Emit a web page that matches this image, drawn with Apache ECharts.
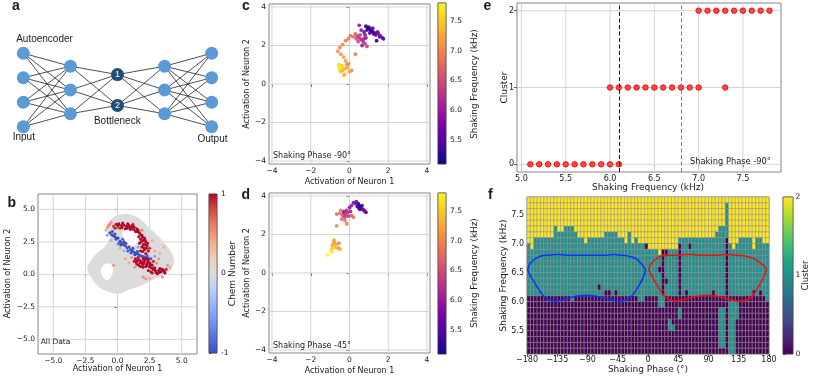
<!DOCTYPE html>
<html><head><meta charset="utf-8">
<script src="https://cdn.jsdelivr.net/npm/echarts@6/dist/echarts.min.js"></script>
<style>html,body{margin:0;padding:0;background:#fff}#c{width:830px;height:378px}</style>
</head><body><div id="c"></div>
<script>
// ================= DATA =================
// Panel a: autoencoder network (layer index, node vertical position)
var layerX = [0, 1, 2, 3, 4];
var layerNodesY = [[1.5, 0.5, -0.5, -1.5], [0.97, 0, -0.97], [0.63, -0.63], [0.97, 0, -0.97], [1.5, 0.5, -0.5, -1.5]];
var bottleneckLayer = 2;
var bottleneckLabels = ['1', '2'];

// Panel b: latent space, all data (gray cloud outline + holes) and coloured points [x, y, chem]
var bTicks = [-5, -2.5, 0, 2.5, 5];
var bCbTicks = [-1, 0, 1];
var bCloudOuter = [[-0.45,4.3],[0.06,4.56],[0.5,4.65],[0.84,4.62],[1.5,4.43],[2.0,4.05],[2.66,3.41],[3.1,3.0],[3.44,2.64],[4.09,1.87],[4.4,1.1],[4.3,0.6],[4.0,0.25],[3.6,-0.05],[3.0,-0.3],[2.5,-0.55],[2.0,-0.8],[1.5,-1.0],[0.84,-1.21],[0.06,-1.5],[-0.72,-1.34],[-1.5,-0.95],[-2.0,-0.31],[-2.35,0.46],[-2.14,0.97],[-1.62,1.62],[-0.97,2.12],[-0.7,2.6],[-0.58,2.89],[-0.72,3.3],[-0.72,3.66],[-0.6,4.05]];
var bHole1 = [[-1.0,0.8],[-0.5,0.75],[-0.35,0.3],[-0.5,-0.2],[-0.8,-0.45],[-1.15,-0.2],[-1.3,0.3]];
var bHole2 = [[0.4,3.3],[1.0,3.4],[1.5,3.15],[1.65,2.6],[1.4,2.25],[0.9,2.3],[0.5,2.7]];
var bPointsLight = [[-0.8,3.6,0.5],[-0.6,3.9,0.6],[-0.9,3.4,0.4],[-0.3,0.7,0.5],[0.2,2.0,0.4],[1.35,0.55,0.5],[3.05,0.85,0.5],[3.3,1.6,0.4],[3.6,2.1,0.4],[2.0,-0.2,0.5],[2.5,-0.3,0.4],[3.9,0.7,0.5],[0.9,0.9,0.4],[1.9,3.4,0.6],[2.7,2.6,0.4],[4.1,0.5,0.4],[3.5,-0.2,0.5],[-0.5,4.0,0.5],[1.1,1.3,0.5],[2.9,1.8,0.4],[-0.7,3.75,0.6],[3.2,1.2,0.5],[2.2,-0.35,0.5],[0.6,1.2,0.4],
  [-0.8,3.0,-0.5],[0.0,2.3,-0.4],[2.7,0.9,-0.5],[2.3,2.0,-0.4],[1.6,2.1,-0.5],[0.5,1.8,-0.4],[2.9,1.4,-0.5],[-0.5,2.6,-0.4]];
var bPointsRed = [[-0.3,3.7,0.9],[-0.1,3.85,1],[0.1,3.9,1],[0.3,3.75,1],[0.5,3.8,1],[0.7,3.7,1],[0.9,3.75,1],[1.1,3.6,1],[1.3,3.65,1],[1.5,3.5,1],[0.2,3.55,0.9],[0.6,3.5,1],[1.0,3.45,1],[1.4,3.3,1],[1.7,3.2,1],[0.0,3.6,0.8],[0.8,3.9,1],[1.2,3.85,0.9],[0.4,3.95,1],[1.6,3.4,1],[0.95,3.6,1],[1.25,3.45,1],
  [1.9,3.0,1],[2.1,2.8,1],[1.8,2.7,1],[2.2,2.5,1],[2.0,2.3,1],[2.3,2.2,1],[1.9,2.1,1],[2.1,1.9,1],[2.4,1.8,1],[2.2,1.6,1],[1.8,1.8,1],[2.5,2.0,0.9],[2.0,2.6,1],[1.7,2.4,1],[1.95,2.85,1],[2.35,2.4,1],[2.05,2.05,1],[1.85,2.5,1],
  [1.3,1.0,1],[1.5,0.8,1],[1.7,1.1,1],[1.9,0.9,1],[2.1,1.0,1],[2.3,0.8,1],[2.5,0.9,1],[2.7,0.7,1],[1.6,1.3,1],[1.8,0.6,1],[2.0,1.2,1],[2.4,1.1,1],[2.6,0.5,1],[2.2,0.6,1],[1.4,1.2,1],[2.8,1.0,0.9],[1.55,1.05,1],[1.95,0.75,1],[2.35,0.95,1],[2.15,1.15,1],
  [2.4,0.3,1],[2.6,0.2,1],[2.8,0.35,1],[3.0,0.15,1],[3.2,0.3,1],[3.4,0.2,1],[3.6,0.3,1],[3.8,0.4,0.9],[2.9,0.5,1],[3.3,0.45,1],[3.1,0.05,1],[3.7,0.1,1],[2.7,0.1,1],[3.5,0.4,1],
  [1.45,0.95,1],[1.65,0.7,1],[1.85,1.0,1],[2.05,0.85,1],[2.25,0.7,1],[2.45,0.6,1],[2.55,0.75,1],[2.75,0.45,1],[2.95,0.3,1],[3.25,0.15,1],[3.45,0.35,1],[3.65,0.2,1],[1.75,0.9,1],[2.0,0.55,1],[2.3,1.2,1],[2.15,2.3,1],[2.25,2.0,1],[1.95,1.75,1],[2.15,2.65,1],[1.8,3.05,1],[1.55,3.3,1],[1.15,3.75,1],[0.75,3.55,1],[0.35,3.6,1],[0.05,3.75,1],[-0.2,3.55,0.9],[1.65,2.9,1]];
var bPointsBlue = [[-0.6,3.2,-1],[-0.45,3.05,-1],[-0.3,2.95,-1],[-0.2,3.1,-1],[-0.1,2.7,-1],[0.05,2.8,-1],[0.2,2.55,-1],[0.3,2.4,-1],[0.45,2.3,-1],[0.6,2.2,-1],[0.75,2.05,-1],[0.9,2.1,-1],[1.0,1.9,-1],[1.15,1.8,-1],[1.3,1.7,-1],[1.45,1.6,-1],[1.6,1.55,-1],[1.75,1.45,-1],[1.9,1.4,-1],[2.05,1.35,-1],[2.2,1.3,-1],[2.4,1.25,-1],[2.6,1.2,-0.9],[0.1,2.4,-0.9],[0.5,2.5,-1],[0.8,1.8,-0.9],[1.2,2.0,-1],[1.55,1.75,-1],[2.3,1.45,-0.9],[-0.4,3.3,-1],[0.4,2.7,-0.9],[1.05,1.65,-1],[-0.15,2.85,-1],[0.25,2.25,-1],[0.65,2.4,-1],[1.35,1.5,-1]];

// Panels c, d: latent points at fixed phase [x, y, frequency kHz]
var cdTicks = [-4, -2, 0, 2, 4];
var freqCbTicks = [5.5, 6.0, 6.5, 7.0, 7.5];
var cPoints = [[0.85,3.0,5.1],[0.95,2.9,5.2],[1.05,2.85,5.15],[1.1,2.75,5.3],[1.2,2.7,5.25],[1.3,2.65,5.4],[1.0,2.95,5.3],[1.15,2.8,5.2],[1.25,2.6,5.5],[1.35,2.55,5.45],[0.9,2.8,5.35],[1.4,2.25,5.1],[1.05,2.65,5.5],
  [0.75,2.7,5.7],[1.5,2.6,5.8],[1.6,2.5,5.9],[1.7,2.4,5.7],[1.75,2.35,5.6],[1.45,2.7,5.6],[0.6,2.8,5.9],[0.5,3.05,6.0],[1.2,2.9,5.7],[1.55,2.45,5.65],[0.8,2.55,5.9],
  [0.4,2.5,6.2],[0.5,2.4,6.3],[0.6,2.3,6.1],[0.7,2.2,6.2],[0.8,2.1,6.3],[0.9,1.95,6.4],[0.55,2.55,6.4],[0.35,2.35,6.5],[0.65,2.0,6.0],[0.75,2.35,6.1],[0.45,2.2,6.5],[0.85,2.4,6.0],
  [0.3,2.6,6.7],[0.2,2.45,6.8],[0.05,2.5,6.7],[-0.06,2.35,6.9],[-0.2,2.25,6.9],[-0.35,2.05,7.0],[-0.5,1.9,7.0],[-0.6,1.7,7.1],[-0.45,1.55,7.1],[-0.3,1.4,7.2],[-0.2,1.2,7.2],[-0.15,1.0,7.1],[-0.1,0.85,7.3],[0.1,0.7,7.0],[0.3,1.55,6.9],[-0.25,0.8,7.2],[-0.05,1.05,7.0],[0.0,0.65,7.2],[-0.35,0.7,7.3],
  [-0.55,1.0,7.6],[-0.5,0.9,7.7],[-0.45,0.8,7.8],[-0.4,0.95,7.5],[-0.35,0.85,7.6],[-0.5,0.75,7.7],[-0.45,0.65,7.4],[-0.3,0.45,7.5],[-0.25,0.5,7.4],[-0.55,0.85,7.8]];
var dPoints = [[0.45,3.6,5.1],[0.5,3.5,5.2],[0.55,3.45,5.15],[0.6,3.4,5.3],[0.5,3.35,5.25],[0.65,3.5,5.35],[0.4,3.45,5.3],[0.55,3.3,5.4],
  [0.7,3.3,5.6],[0.8,3.2,5.7],[0.75,3.25,5.8],[0.3,3.6,5.8],[0.2,3.65,5.9],[0.1,3.5,6.0],[0.0,3.4,5.9],[0.85,3.15,5.6],[0.35,3.7,5.7],
  [-0.3,3.1,6.2],[-0.2,3.0,6.3],[-0.1,3.15,6.1],[-0.25,2.9,6.4],[-0.15,3.25,6.2],[-0.35,3.0,6.5],[-0.05,2.95,6.3],[-0.2,3.1,6.4],[0.05,3.2,6.1],[-0.3,3.2,6.0],
  [-0.66,3.06,6.8],[0.11,2.98,6.7],[-0.66,2.45,7.0],[-0.23,2.72,6.9],[-0.14,2.55,6.9],[-0.5,3.1,6.8],[0.2,2.9,6.8],[-0.4,2.8,6.7],[-0.45,3.25,6.9],
  [-0.8,1.6,7.1],[-0.7,1.5,7.2],[-0.55,1.55,7.0],[-0.6,1.3,7.1],[-0.5,1.25,7.2],[-0.9,1.4,7.4],[-0.85,1.3,7.5],[-0.95,1.2,7.6],[-0.75,1.35,7.4],[-0.85,1.5,7.3],[-1.13,0.94,7.8],[-0.9,1.1,7.7],[-0.8,1.7,7.2]];

// Panel e: cluster vs frequency at phase -90
var eXTicks = [5.0, 5.5, 6.0, 6.5, 7.0, 7.5];
var eYTicks = [0, 1, 2];
var eFreq =    [5.1,5.2,5.3,5.4,5.5,5.6,5.7,5.8,5.9,6.0,6.1, 6.0,6.1,6.2,6.3,6.4,6.5,6.6,6.7,6.8,6.9,7.0,7.3, 7.0,7.1,7.2,7.3,7.4,7.5,7.6,7.7,7.8];
var eCluster = [0,0,0,0,0,0,0,0,0,0,0, 1,1,1,1,1,1,1,1,1,1,1,1, 2,2,2,2,2,2,2,2,2];
var eDashed = [6.1, 6.8];

// Panel f: cluster map (columns = phase bins, each string = rows from 7.8 kHz down to 5.1 kHz)
var fXTicks = [-180, -135, -90, -45, 0, 45, 90, 135, 180];
var fYTicks = [5.5, 6.0, 6.5, 7.0, 7.5];
var fCbTicks = [0, 1, 2];
var phaseEdges = [-180,-175,-170,-165,-160,-155,-150,-145,-140,-135,-130,-125,-120,-115,-110,-105,-100,-95,-90,-85,-80,-75,-70,-65,-60,-55,-50,-45,-40,-35,-30,-25,-20,-15,-10,-5,0,5,10,15,20,25,30,35,40,45,50,55,60,65,70,75,80,85,90,95,100,105,110,115,120,125,130,135,140,145,150,155,160,165,170,175,180];
var freqEdges = [7.8,7.7,7.6,7.5,7.4,7.3,7.2,7.1,7.0,6.9,6.8,6.7,6.6,6.5,6.4,6.3,6.2,6.1,6.0,5.9,5.8,5.7,5.6,5.5,5.4,5.3,5.2,5.1];
var clusterCols = [
"222222221111111110000000000","222222222111111110000000000","222222211111111110000000000","222222211111111110000000000",
"222222211111111110000000000","222222211111111110000000000","222222211111111110000000000","222222211111111110000000000",
"222221111111111110000000000","222222111111111110000000000","222222111111111110000000000","222221111111111110000000000",
"222221111111111110000000000","222221111111111111000000000","222222111111111110000000000","222222211111111110000000000",
"222222211111111110000000000","222222221111111110000000000","222222211111111110000000000","222222211111111110000000000",
"222222211111111110000000000","222222211111111010000000000","222222211111111110000000000","222222111111111100000000000",
"222222111111111100000000000","222222111111111110000000000","222222111111111100000000000","222222211111111110000000000",
"222222211111111110000000000","222222221111111110000000000","222222111111111110000000000","222222221111111110000000000",
"222222211111111110000000000","222222221111111111000000000","222222221111111111000000000","222222220111111110000000000",
"222222222111111110000000000","222222222111111110000000000","222222222111111110000000000","222222222211011111100000000",
"222222222000000001100000000","222222222011110110000000000","222222222111111110000110000","222222222111111110000010000",
"222222222111111110000000000","222222210000000000011000000","222222211111111110000000000","222222211111111100000000000",
"222222210111111110000000000","222222211111111110000000000","222222211111111110000000000","222222211111111110000000000",
"222222211111111110000000000","222222211111111110000000000","222222211111111110000000000","222222211111111100000000000",
"222222111111111110000000000","222221111111111110011111110","222221111111111110011111110","211111100000000000000000000",
"222222221111111110111111111","222222222111111110111111111","222222221111111110111000000","222222211111111110000000000",
"222222211111111110000000000","222222211111111110000000000","222222211111111110000000000","222222222111111100000000000",
"222222211111111110000000000","222222211111111100000000000","222222221111111110000000000","222222221111111111000000000"];
var blueCurve = [[-179,6.55],[-176,6.64],[-172,6.70],[-166,6.75],[-158,6.79],[-148,6.80],[-135,6.81],[-120,6.80],[-105,6.80],[-90,6.80],[-75,6.80],[-60,6.80],[-50,6.81],[-40,6.80],[-32,6.79],[-25,6.77],[-18,6.74],[-12,6.68],[-7,6.61],[-4,6.55],[-6,6.45],[-10,6.35],[-16,6.23],[-22,6.13],[-28,6.06],[-35,6.02],[-43,6.01],[-52,6.02],[-62,6.05],[-72,6.08],[-82,6.10],[-92,6.11],[-102,6.10],[-112,6.08],[-122,6.05],[-132,6.02],[-140,6.01],[-148,6.03],[-156,6.10],[-163,6.22],[-170,6.35],[-176,6.47],[-179,6.55]];
var redCurve = [[1,6.55],[4,6.64],[8,6.70],[14,6.75],[22,6.79],[32,6.80],[45,6.80],[60,6.81],[75,6.80],[90,6.80],[105,6.80],[120,6.81],[132,6.80],[142,6.79],[150,6.77],[158,6.74],[165,6.69],[171,6.63],[176,6.56],[174,6.47],[170,6.37],[164,6.25],[158,6.14],[152,6.06],[145,6.02],[137,6.01],[128,6.02],[118,6.05],[108,6.08],[98,6.10],[88,6.11],[78,6.10],[68,6.08],[58,6.05],[48,6.02],[40,6.01],[32,6.03],[24,6.10],[17,6.22],[10,6.35],[5,6.46],[1,6.55]];

// ================= STYLE =================
var coolwarm = ['#3b4cc0','#5572df','#7394f6','#96b5fe','#b9d0f9','#dddcdc','#f2cbb7','#f6a98a','#ec7f63','#d24d3e','#b40426'];
var plasma = ['#0d0887','#41049d','#6a00a8','#8f0da4','#b12a90','#cc4778','#e16462','#f2844b','#fca636','#fcce25','#f0f921'];
var viridis = ['#440154','#482475','#414487','#355f8d','#2a788e','#21918c','#22a884','#44bf70','#7ad151','#bddf26','#fde725'];
var clusterColors = ['#440154', '#21918c', '#fde725'];
var TXT = '#1a1a1a', FONT = 'DejaVu Sans', GRIDC = '#d0d0d0';

function mn(s) { return s.replace('-', '\u2212'); }
function fmt1(v) { return mn((Math.abs(v) < 1e-9 ? 0 : v).toFixed(1)); }
function fmt0(v) { return mn(String(Math.round(v))); }

function hiddenAx(gi, min, max) { return {type:'value', gridIndex:gi, min:min, max:max, show:false}; }
function ax(gi, min, max, ticks, fmt, fs, margin, pos) {
  var a = {type:'value', gridIndex:gi, min:min, max:max, axisLine:{show:false}, splitLine:{show:false},
    axisTick:{show:true, customValues:ticks, length:3, lineStyle:{color:'#333', width:0.8}},
    axisLabel:{show:true, customValues:ticks, formatter:fmt, fontSize:fs, fontFamily:FONT, color:TXT, margin:margin, hideOverlap:false}};
  if (pos) a.position = pos;
  return a;
}
function cbAx(gi, min, max, ticks, fmt, margin) {
  return {type:'value', gridIndex:gi, min:min, max:max, position:'right', axisLine:{show:false}, splitLine:{show:false},
    axisTick:{show:true, customValues:ticks, length:2.5, lineStyle:{color:'#333', width:0.8}},
    axisLabel:{show:true, customValues:ticks, formatter:fmt, fontSize:7.5, fontFamily:FONT, color:TXT, margin:margin}};
}
function gridLinesSeries(gi, xt, yt, xr, yr) {
  var items = [];
  xt.forEach(function (v) { items.push([v, yr[0], v, yr[1]]); });
  yt.forEach(function (v) { items.push([xr[0], v, xr[1], v]); });
  return {type:'custom', xAxisIndex:gi, yAxisIndex:gi, silent:true, z:1, data:items,
    renderItem:function (p, api) { var it = items[p.dataIndex]; var a = api.coord([it[0], it[1]]), b = api.coord([it[2], it[3]]);
      return {type:'line', shape:{x1:a[0], y1:a[1], x2:b[0], y2:b[1]}, style:{stroke:GRIDC, lineWidth:0.9}}; }};
}
function cbSeries(gi, min, max, colors) {
  var stops = colors.map(function (c, i) { return {offset:i / (colors.length - 1), color:c}; });
  return {type:'custom', xAxisIndex:gi, yAxisIndex:gi, silent:true, data:[[0.5, (min + max) / 2]],
    renderItem:function (p, api) { var a = api.coord([0, max]), b = api.coord([1, min]);
      return {type:'rect', shape:{x:a[0], y:a[1], width:b[0] - a[0], height:b[1] - a[1]},
        style:{fill:new echarts.graphic.LinearGradient(0, 1, 0, 0, stops), stroke:'#444', lineWidth:0.6}}; }};
}

var frame = {show:true, borderColor:'#777', borderWidth:0.9, backgroundColor:'transparent'};
var cbFrame = {show:true, borderColor:'#444', borderWidth:0.6, backgroundColor:'transparent'};
var grids = [
  {left:0, top:20, width:230, height:125, show:false},
  Object.assign({left:38, top:194, width:159, height:160}, frame),
  Object.assign({left:209, top:194, width:8, height:159}, cbFrame),
  Object.assign({left:269, top:4, width:161, height:160}, frame),
  Object.assign({left:438, top:3, width:8, height:161}, cbFrame),
  Object.assign({left:269, top:193, width:161, height:160}, frame),
  Object.assign({left:438, top:193, width:8, height:161}, cbFrame),
  Object.assign({left:517, top:3, width:264, height:169}, frame),
  Object.assign({left:527, top:197, width:242, height:157}, frame),
  Object.assign({left:783, top:197, width:10, height:157}, cbFrame)
];
var bX = [-6.19, 6.19], bY = [-6.13, 6.18], cdR = [-4.155, 4.155], eX = [4.95, 7.93], eY = [-0.1, 2.1];
var xAxes = [
  hiddenAx(0, -0.495, 4.389),
  ax(1, bX[0], bX[1], bTicks, fmt1, 7.5, 3),
  hiddenAx(2, 0, 1),
  ax(3, cdR[0], cdR[1], cdTicks, fmt0, 7.5, 3.5),
  hiddenAx(4, 0, 1),
  ax(5, cdR[0], cdR[1], cdTicks, fmt0, 7.5, 3.5),
  hiddenAx(6, 0, 1),
  ax(7, eX[0], eX[1], eXTicks, fmt1, 8, 2.5),
  ax(8, -180, 180, fXTicks, fmt0, 8, 2),
  hiddenAx(9, 0, 1)
];
var yAxes = [
  hiddenAx(0, -2.245, 2.857),
  ax(1, bY[0], bY[1], bTicks, fmt1, 7.5, 3),
  cbAx(2, -1, 1, bCbTicks, function (v) { return String(v); }, 4),
  ax(3, cdR[0], cdR[1], cdTicks, fmt0, 7.5, 3),
  cbAx(4, 5.1, 7.8, freqCbTicks, fmt1, 4),
  ax(5, cdR[0], cdR[1], cdTicks, fmt0, 7.5, 3),
  cbAx(6, 5.1, 7.8, freqCbTicks, fmt1, 4),
  ax(7, eY[0], eY[1], eYTicks, fmt0, 8, 3),
  ax(8, 5.1, 7.8, fYTicks, fmt1, 8, 3),
  cbAx(9, 0, 2, fCbTicks, fmt0, 2.5)
];

var series = [];
// ---- panel a ----
var edges = [];
for (var l = 0; l < layerX.length - 1; l++) {
  layerNodesY[l].forEach(function (y1) { layerNodesY[l + 1].forEach(function (y2) { edges.push([layerX[l], y1, layerX[l + 1], y2]); }); });
}
series.push({type:'custom', xAxisIndex:0, yAxisIndex:0, silent:true, z:2, data:edges,
  renderItem:function (p, api) { var it = edges[p.dataIndex]; var a = api.coord([it[0], it[1]]), b = api.coord([it[2], it[3]]);
    return {type:'line', shape:{x1:a[0], y1:a[1], x2:b[0], y2:b[1]}, style:{stroke:'#262626', lineWidth:0.8}}; }});
var nodeData = [], bnData = [];
layerX.forEach(function (x, li) { layerNodesY[li].forEach(function (y) { (li === bottleneckLayer ? bnData : nodeData).push([x, y]); }); });
series.push({type:'scatter', xAxisIndex:0, yAxisIndex:0, silent:true, z:3, data:nodeData, symbolSize:13, itemStyle:{color:'#5b9bd5', opacity:1}});
series.push({type:'scatter', xAxisIndex:0, yAxisIndex:0, silent:true, z:3, data:bnData, symbolSize:13, itemStyle:{color:'#1f4e79', opacity:1},
  label:{show:true, position:'inside', formatter:function (p) { return bottleneckLabels[p.dataIndex]; }, color:'#fff', fontSize:9, fontFamily:'Liberation Sans'}});
// ---- panel b ----
series.push(gridLinesSeries(1, bTicks, bTicks, bX, bY));
var bCloud = [bCloudOuter, bHole1, bHole2];
var bCloudFill = ['#dcdcdc', '#ffffff', '#ffffff'];
series.push({type:'custom', xAxisIndex:1, yAxisIndex:1, silent:true, z:2, data:bCloud.map(function (p) { return p[0]; }),
  renderItem:function (p, api) { var poly = bCloud[p.dataIndex];
    return {type:'polygon', shape:{points:poly.map(function (q) { return api.coord(q); }), smooth:0.3}, style:{fill:bCloudFill[p.dataIndex]}}; }});
var bIdx = series.length;
series.push({type:'scatter', xAxisIndex:1, yAxisIndex:1, silent:true, z:3, symbolSize:3,
  data:bPointsLight.concat(bPointsBlue, bPointsRed), itemStyle:{opacity:1}});
series.push(cbSeries(2, -1, 1, coolwarm));
// ---- panel c ----
series.push(gridLinesSeries(3, cdTicks, cdTicks, cdR, cdR));
var cIdx = series.length;
series.push({type:'scatter', xAxisIndex:3, yAxisIndex:3, silent:true, z:3, symbolSize:3.8, data:cPoints, itemStyle:{opacity:0.9}});
series.push(cbSeries(4, 5.1, 7.8, plasma));
// ---- panel d ----
series.push(gridLinesSeries(5, cdTicks, cdTicks, cdR, cdR));
var dIdx = series.length;
series.push({type:'scatter', xAxisIndex:5, yAxisIndex:5, silent:true, z:3, symbolSize:3.8, data:dPoints, itemStyle:{opacity:0.9}});
series.push(cbSeries(6, 5.1, 7.8, plasma));
// ---- panel e ----
series.push(gridLinesSeries(7, eXTicks, eYTicks, eX, eY));
var eDashColors = ['#111111', '#808080'];
series.push({type:'scatter', xAxisIndex:7, yAxisIndex:7, silent:true, z:4, symbolSize:5.5,
  data:eFreq.map(function (f, i) { return [f, eCluster[i]]; }),
  itemStyle:{color:'#ff4545', borderColor:'#dd0000', borderWidth:0.8, opacity:1},
  markLine:{silent:true, symbol:['none', 'none'], label:{show:false}, animation:false,
    data:eDashed.map(function (v, i) { return {xAxis:v, lineStyle:{color:eDashColors[i], type:[4, 2.5], width:1}}; })}});
// ---- panel f ----
var heatCells = [];
clusterCols.forEach(function (col, ci) {
  for (var r = 0; r < freqEdges.length - 1; r++) {
    var ch = col.charAt(r) || col.charAt(col.length - 1);
    heatCells.push([phaseEdges[ci], freqEdges[r], +ch, phaseEdges[ci + 1], freqEdges[r + 1]]);
  }
});
series.push({type:'custom', xAxisIndex:8, yAxisIndex:8, silent:true, z:2, data:heatCells,
  renderItem:function (p, api) { var d = heatCells[p.dataIndex]; var a = api.coord([d[0], d[1]]), b = api.coord([d[3], d[4]]);
    return {type:'rect', shape:{x:Math.min(a[0], b[0]), y:Math.min(a[1], b[1]), width:Math.abs(b[0] - a[0]), height:Math.abs(b[1] - a[1])},
      style:{fill:clusterColors[d[2]], stroke:'#8c8c8c', lineWidth:0.5}}; }});
series.push({type:'line', xAxisIndex:8, yAxisIndex:8, silent:true, z:5, data:blueCurve, symbol:'none', smooth:0.3, lineStyle:{color:'#1030ff', width:1.5}});
series.push({type:'line', xAxisIndex:8, yAxisIndex:8, silent:true, z:5, data:redCurve, symbol:'none', smooth:0.3, lineStyle:{color:'#ee1111', width:1.5}});
series.push(cbSeries(9, 0, 2, viridis));

// ---- texts ----
function T(text, x, y, size, opt) {
  opt = opt || {};
  return {type:'text', x:x, y:y, rotation:opt.rot ? Math.PI / 2 : 0, silent:true, z:100,
    style:{text:text, fontSize:size, fontFamily:opt.family || FONT, fontWeight:opt.bold ? 'bold' : 'normal', fill:TXT,
      textAlign:opt.align || 'center', textVerticalAlign:'middle'}};
}
var LB = {family:'Liberation Sans', bold:true};
var graphics = [
  T('a', 16, 6, 14, LB), T('b', 11.7, 203.3, 14, LB), T('c', 245.8, 5.7, 14, LB),
  T('d', 245.8, 195, 14, LB), T('e', 487.5, 5.7, 14, LB), T('f', 490.3, 195, 14, LB),
  T('Autoencoder', 44.5, 39, 10, {family:'Liberation Sans'}), T('Bottleneck', 117.3, 121, 10, {family:'Liberation Sans'}),
  T('Input', 23.8, 137.5, 10, {family:'Liberation Sans'}), T('Output', 212.5, 139, 10, {family:'Liberation Sans'}),
  T('Activation of Neuron 1', 117.5, 369, 8), T('Activation of Neuron 2', 8, 273.5, 8, {rot:true}),
  T('Chem Number', 233, 273.5, 9, {rot:true}), T('All Data', 40.7, 341.7, 7.5, {align:'left'}),
  T('Activation of Neuron 1', 349.5, 181.5, 8), T('Activation of Neuron 2', 246.5, 84, 8, {rot:true}),
  T('Shaking Phase -90\u00b0', 273, 155.5, 8, {align:'left'}), T('Shaking Frequency (kHz)', 475, 84, 8.8, {rot:true}),
  T('Activation of Neuron 1', 349.5, 370.5, 8), T('Activation of Neuron 2', 246.5, 273, 8, {rot:true}),
  T('Shaking Phase -45\u00b0', 273, 345.5, 8, {align:'left'}), T('Shaking Frequency (kHz)', 475, 273, 8.8, {rot:true}),
  T('Shaking Frequency (kHz)', 648, 188, 9), T('Cluster', 505, 87.5, 9, {rot:true}),
  T('Shaking Phase -90\u00b0', 690, 162, 8.3, {align:'left'}),
  T('Shaking Phase (\u00b0)', 648, 369.5, 9), T('Shaking Frequency (kHz)', 504, 275.5, 9, {rot:true}),
  T('Cluster', 806, 275.5, 8.5, {rot:true})
];

var chart = echarts.init(document.getElementById('c'), null, {renderer:'canvas'});
chart.setOption({
  animation:false, backgroundColor:'#ffffff',
  grid:grids, xAxis:xAxes, yAxis:yAxes, series:series, graphic:graphics,
  visualMap:[
    {type:'continuous', show:false, min:-1, max:1, dimension:2, seriesIndex:[bIdx], inRange:{color:coolwarm}},
    {type:'continuous', show:false, min:5.1, max:7.8, dimension:2, seriesIndex:[cIdx, dIdx], inRange:{color:plasma}}
  ]
});
</script></body></html>
